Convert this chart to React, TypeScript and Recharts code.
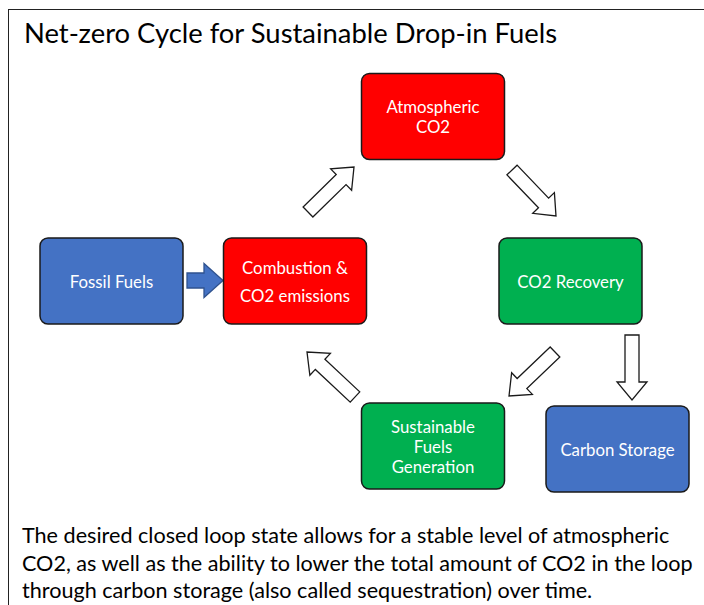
import React from 'react';
import { ScatterChart, Scatter, XAxis, YAxis, ReferenceLine } from 'recharts';

const W = 704;
const H = 605;
const FONT = 'Lato, "Noto Sans", sans-serif';

// nodes of the cycle (centre of each box, in page units)
const nodeLabels = [
  'Atmospheric\nCO2',
  'Fossil Fuels',
  'Combustion &\nCO2 emissions',
  'CO2 Recovery',
  'Sustainable\nFuels\nGeneration',
  'Carbon Storage',
];
const nodeX = [433, 111.5, 295, 570.5, 433, 617.5];
const nodeY = [116.5, 281, 281, 281, 446, 449];
const nodeKind = ['emission', 'fossil', 'emission', 'capture', 'capture', 'fossil'];

// arrows: tail -> tip
const arrowX1 = [187, 308, 512, 555, 355, 632];
const arrowY1 = [280.5, 212, 170, 352, 397, 335];
const arrowX2 = [223, 354, 556, 509, 307, 632];
const arrowY2 = [280.5, 167, 216, 396, 352, 400];
const arrowKind = ['fossil', 'flow', 'flow', 'flow', 'flow', 'flow'];

const title = 'Net-zero Cycle for Sustainable Drop-in Fuels';
const caption = [
  'The desired closed loop state allows for a stable level of atmospheric',
  'CO2, as well as the ability to lower the total amount of CO2 in the loop',
  'through carbon storage (also called sequestration) over time.',
];

const KIND_FILL: Record<string, string> = {
  emission: '#FF0000',
  fossil: '#4472C4',
  capture: '#00B050',
  flow: '#FFFFFF',
};

const nodes = nodeLabels.map((label, i) => ({
  label,
  x: nodeX[i],
  y: nodeY[i],
  kind: nodeKind[i],
}));

const BOX_W = 143;
const BOX_H = 86;

const NodeBox = (props: any) => {
  const { cx, cy, payload } = props;
  if (cx == null || cy == null) return null;
  const lines = payload.label.split('\n');
  const gap = payload.label.startsWith('Combustion') ? 28 : 20;
  const top = cy - ((lines.length - 1) * gap) / 2;
  return (
    <g>
      <rect
        x={cx - BOX_W / 2}
        y={cy - BOX_H / 2}
        width={BOX_W}
        height={BOX_H}
        rx={8}
        ry={8}
        fill={KIND_FILL[payload.kind]}
        stroke="#1a1a1a"
        strokeWidth={1.5}
      />
      {lines.map((t: string, i: number) => (
        <text
          key={i}
          x={cx}
          y={top + i * gap}
          textAnchor="middle"
          dominantBaseline="central"
          fill="#FFFFFF"
          fontFamily={FONT}
          fontSize={16.8}
        >
          {t}
        </text>
      ))}
    </g>
  );
};

const makeArrow = (kind: string) => (props: any) => {
  const { x1, y1, x2, y2 } = props;
  if ([x1, y1, x2, y2].some((v) => v == null || isNaN(v))) return <g />;
  const dx = x2 - x1;
  const dy = y2 - y1;
  const len = Math.sqrt(dx * dx + dy * dy);
  const ux = dx / len;
  const uy = dy / len;
  const nx = -uy;
  const ny = ux;
  const fossil = kind === 'fossil';
  const sw = fossil ? 7.5 : 7;
  const hw = fossil ? 17 : 15;
  const hl = fossil ? 19 : 18;
  const bx = x2 - ux * hl;
  const by = y2 - uy * hl;
  const pts = [
    [x1 + nx * sw, y1 + ny * sw],
    [bx + nx * sw, by + ny * sw],
    [bx + nx * hw, by + ny * hw],
    [x2, y2],
    [bx - nx * hw, by - ny * hw],
    [bx - nx * sw, by - ny * sw],
    [x1 - nx * sw, y1 - ny * sw],
  ]
    .map((p) => p.join(','))
    .join(' ');
  return (
    <polygon
      points={pts}
      fill={KIND_FILL[kind]}
      stroke={fossil ? '#2F528F' : '#1a1a1a'}
      strokeWidth={1.3}
      strokeLinejoin="miter"
    />
  );
};

export default function App() {
  return (
    <div
      style={{
        position: 'fixed',
        left: 0,
        top: 0,
        width: W,
        height: H,
        background: '#fff',
        overflow: 'hidden',
      }}
    >
      <div
        style={{
          position: 'absolute',
          left: 8,
          top: 9,
          width: W + 20,
          height: H + 20,
          borderLeft: '1.5px solid #222',
          borderTop: '1.5px solid #222',
        }}
      />
      <div
        style={{
          position: 'absolute',
          left: 24,
          top: 16,
          fontFamily: FONT,
          fontSize: 27.4,
          color: '#000',
          whiteSpace: 'nowrap',
        }}
      >
        {title}
      </div>
      <div style={{ position: 'absolute', left: 0, top: 0 }}>
        <ScatterChart width={W} height={H} margin={{ top: 0, right: 0, bottom: 0, left: 0 }}>
          <XAxis type="number" dataKey="x" domain={[0, W]} hide />
          <YAxis type="number" dataKey="y" domain={[0, H]} reversed hide />
          {arrowX1.map((x, i) => (
            <ReferenceLine
              key={i}
              segment={[
                { x, y: arrowY1[i] },
                { x: arrowX2[i], y: arrowY2[i] },
              ]}
              ifOverflow="visible"
              shape={makeArrow(arrowKind[i])}
            />
          ))}
          <Scatter data={nodes} shape={NodeBox} isAnimationActive={false} />
        </ScatterChart>
      </div>
      <div
        style={{
          position: 'absolute',
          left: 22,
          top: 522,
          fontFamily: FONT,
          fontSize: 21.6,
          lineHeight: '27.6px',
          color: '#000',
          whiteSpace: 'nowrap',
        }}
      >
        {caption.map((c, i) => (
          <div key={i}>{c}</div>
        ))}
      </div>
    </div>
  );
}
